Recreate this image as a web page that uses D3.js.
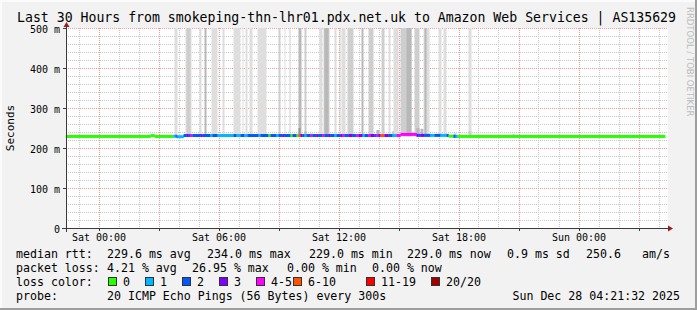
<!DOCTYPE html>
<html>
<head>
<meta charset="utf-8">
<script src="https://cdn.jsdelivr.net/npm/d3@7"></script>
<style>
  body { margin: 0; background: #fff; }
  text { font-family: 'DejaVu Sans Mono', monospace; fill: #000; }
</style>
</head>
<body>
<div id="chart"></div>
<script>
// ---- data ----
const title = 'Last 30 Hours from smokeping-thn-lhr01.pdx.net.uk to Amazon Web Services | AS135629'
const yTicks = [0, 100, 200, 300, 400, 500]
const lossLabels = ['0', '1', '2', '3', '4-5', '6-10', '11-19', '20/20']
const lossColors = ['#26ff00', '#00b8ff', '#0059ff', '#7e00ff', '#ff00ff', '#ff5500', '#ff0000', '#a00000']
const lossBreaks = [1, 2, 3, 4, 6, 11, 20]

// median rtt (ms), change points
const medianRtt = [
  ['Fri 22:22', 228.9], ['Sat 02:36', 231], ['Sat 02:48', 228.9], ['Sat 03:45', 229.5],
  ['Sat 03:54', 228.2], ['Sat 04:15', 231.2], ['Sat 15:06', 234], ['Sat 15:54', 231.5],
  ['Sat 17:30', 229.5], ['Sat 17:45', 228.9], ['Sun 04:20', 228.9]
]

// lost pings out of 20, change points
const lostPings = [
  ['Fri 22:22', 0], ['Sat 03:45', 1], ['Sat 03:51', 2], ['Sat 03:57', 1], ['Sat 04:15', 2],
  ['Sat 04:24', 3], ['Sat 04:30', 2], ['Sat 04:36', 4], ['Sat 04:42', 2], ['Sat 05:06', 3],
  ['Sat 05:12', 2], ['Sat 05:36', 1], ['Sat 05:42', 2], ['Sat 05:57', 1], ['Sat 06:45', 2],
  ['Sat 06:54', 1], ['Sat 07:06', 2], ['Sat 07:18', 1], ['Sat 07:27', 2], ['Sat 08:00', 1],
  ['Sat 08:06', 2], ['Sat 08:30', 0], ['Sat 08:36', 2], ['Sat 08:54', 1], ['Sat 09:00', 2],
  ['Sat 09:12', 3], ['Sat 09:18', 2], ['Sat 09:36', 0], ['Sat 09:42', 2], ['Sat 09:54', 0],
  ['Sat 10:00', 7], ['Sat 10:06', 3], ['Sat 10:12', 2], ['Sat 10:18', 1], ['Sat 10:24', 2],
  ['Sat 10:36', 4], ['Sat 10:42', 2], ['Sat 10:54', 3], ['Sat 11:00', 2], ['Sat 11:12', 4],
  ['Sat 11:18', 2], ['Sat 11:30', 3], ['Sat 11:36', 2], ['Sat 11:48', 1], ['Sat 11:54', 2],
  ['Sat 12:06', 3], ['Sat 12:12', 4], ['Sat 12:18', 2], ['Sat 12:30', 3], ['Sat 12:42', 2],
  ['Sat 12:54', 4], ['Sat 13:00', 3], ['Sat 13:12', 1], ['Sat 13:18', 2], ['Sat 13:30', 4],
  ['Sat 13:36', 3], ['Sat 13:48', 2], ['Sat 13:54', 4], ['Sat 14:00', 3], ['Sat 14:06', 7],
  ['Sat 14:18', 3], ['Sat 14:30', 2], ['Sat 14:42', 1], ['Sat 14:54', 4], ['Sat 15:54', 3],
  ['Sat 16:00', 2], ['Sat 16:06', 3], ['Sat 16:18', 2], ['Sat 16:36', 1], ['Sat 16:48', 2],
  ['Sat 17:06', 1], ['Sat 17:24', 2], ['Sat 17:30', 0], ['Sat 17:45', 2], ['Sat 17:51', 1],
  ['Sat 17:57', 0], ['Sun 04:20', 0]
]

// smoke: [from, to, low ms, high ms, density]
const smoke = [
  ['Sat 03:48', 'Sat 03:57', 229, 520, 1], ['Sat 04:21', 'Sat 04:39', 229, 520, 1],
  ['Sat 04:24', 'Sat 04:36', 229, 520, 2], ['Sat 05:03', 'Sat 05:09', 229, 520, 1],
  ['Sat 05:18', 'Sat 05:24', 229, 520, 3], ['Sat 05:39', 'Sat 05:57', 229, 520, 1],
  ['Sat 06:12', 'Sat 06:18', 229, 520, 1], ['Sat 06:45', 'Sat 07:06', 229, 520, 1],
  ['Sat 07:12', 'Sat 07:15', 229, 520, 1], ['Sat 07:21', 'Sat 07:27', 229, 520, 1],
  ['Sat 07:33', 'Sat 07:42', 229, 520, 1], ['Sat 07:57', 'Sat 08:24', 229, 520, 1],
  ['Sat 09:00', 'Sat 09:06', 229, 520, 2], ['Sat 09:18', 'Sat 09:21', 229, 520, 1],
  ['Sat 09:33', 'Sat 09:36', 229, 520, 2], ['Sat 10:00', 'Sat 10:09', 229, 520, 3],
  ['Sat 10:00', 'Sat 10:06', 229, 250, 4], ['Sat 10:18', 'Sat 10:24', 229, 520, 2],
  ['Sat 10:18', 'Sat 10:24', 229, 242, 3], ['Sat 10:36', 'Sat 10:42', 229, 236, 3],
  ['Sat 11:03', 'Sat 11:12', 229, 520, 1], ['Sat 11:15', 'Sat 11:33', 229, 520, 2],
  ['Sat 11:18', 'Sat 11:30', 229, 520, 3], ['Sat 11:48', 'Sat 11:54', 229, 520, 1],
  ['Sat 12:03', 'Sat 12:06', 229, 520, 2], ['Sat 12:09', 'Sat 12:21', 229, 520, 1],
  ['Sat 12:27', 'Sat 12:45', 229, 520, 2], ['Sat 13:09', 'Sat 13:15', 229, 520, 3],
  ['Sat 13:30', 'Sat 13:45', 229, 520, 2], ['Sat 13:54', 'Sat 14:03', 229, 245, 3],
  ['Sat 14:09', 'Sat 14:18', 229, 520, 2], ['Sat 14:30', 'Sat 14:36', 229, 520, 1],
  ['Sat 14:42', 'Sat 14:48', 229, 242, 3], ['Sat 14:45', 'Sat 15:00', 229, 520, 1],
  ['Sat 15:06', 'Sat 15:39', 229, 520, 2], ['Sat 15:24', 'Sat 15:39', 229, 520, 3],
  ['Sat 15:48', 'Sat 16:03', 229, 520, 2], ['Sat 15:54', 'Sat 16:03', 229, 250, 3],
  ['Sat 16:06', 'Sat 16:15', 229, 248, 3], ['Sat 16:15', 'Sat 16:33', 229, 520, 1],
  ['Sat 16:18', 'Sat 16:24', 229, 520, 3], ['Sat 17:00', 'Sat 17:09', 229, 520, 1],
  ['Sat 17:15', 'Sat 17:24', 229, 520, 1], ['Sat 17:45', 'Sat 17:54', 229, 236, 3],
  ['Sat 18:30', 'Sat 18:39', 229, 520, 1], ['Sat 18:30', 'Sat 18:39', 229, 242, 2],
  ['Sat 20:42', 'Sat 20:48', 229, 235, 2]
]

const rttStats = ['229.6 ms avg', '234.0 ms max', '229.0 ms min', '229.0 ms now', '0.9 ms sd', '250.6', 'am/s']
const lossStats = ['4.21 % avg', '26.95 % max', '0.00 % min', '0.00 % now']
const probeText = '20 ICMP Echo Pings (56 Bytes) every 300s'
const stamp = 'Sun Dec 28 04:21:32 2025'

// ---- layout ----
const W = 697
const H = 310
const plot = { left: 66, right: 668, top: 28, bottom: 228 }

const days = { Fri: 26, Sat: 27, Sun: 28 }
function parseT (s) {
  const [d, hm] = s.split(' ')
  const [h, m] = hm.split(':').map(Number)
  return new Date(2025, 11, days[d], h, m)
}

const svg = d3
  .select('#chart')
  .append('svg')
  .attr('width', W)
  .attr('height', H)

const x = d3
  .scaleTime()
  .domain([new Date(2025, 11, 26, 22, 22, 30), new Date(2025, 11, 28, 4, 28, 30)])
  .range([plot.left, plot.right])

const y = d3
  .scaleLinear()
  .domain([0, 500])
  .range([plot.bottom, plot.top])

const lossColor = d3.scaleThreshold().domain(lossBreaks).range(lossColors)
const smokeShade = d3.scaleOrdinal().domain([1, 2, 3, 4]).range(['#dedede', '#cecece', '#b8b8b8', '#979797'])

// frame
svg.append('rect').attr('width', W).attr('height', H).attr('fill', '#f2f2f2')
svg.append('rect').attr('x', 0).attr('y', 0).attr('width', W).attr('height', 2).attr('fill', '#fbfbfb')
svg.append('rect').attr('x', 0).attr('y', 0).attr('width', 2).attr('height', H).attr('fill', '#fbfbfb')
svg.append('rect').attr('x', 0).attr('y', H - 2).attr('width', W).attr('height', 2).attr('fill', '#9e9e9e')
svg.append('rect').attr('x', W - 2).attr('y', 0).attr('width', 2).attr('height', H).attr('fill', '#9e9e9e')

svg
  .append('rect')
  .attr('x', plot.left)
  .attr('y', plot.top)
  .attr('width', plot.right - plot.left)
  .attr('height', plot.bottom - plot.top)
  .attr('fill', '#fff')

const grid = svg.append('g').attr('stroke-dasharray', '1,1').attr('stroke-width', 1)

// minor grid
grid
  .selectAll('.vminor')
  .data(x.ticks(d3.timeHour.every(1)))
  .enter()
  .append('line')
  .attr('x1', d => Math.round(x(d)) + 0.5)
  .attr('x2', d => Math.round(x(d)) + 0.5)
  .attr('y1', plot.top)
  .attr('y2', plot.bottom)
  .attr('stroke', '#c8c8c8')

grid
  .selectAll('.hminor')
  .data(d3.range(20, 501, 20))
  .enter()
  .append('line')
  .attr('x1', plot.left)
  .attr('x2', plot.right)
  .attr('y1', d => Math.round(y(d)) + 0.5)
  .attr('y2', d => Math.round(y(d)) + 0.5)
  .attr('stroke', '#c8c8c8')

// major grid
grid
  .selectAll('.vmajor')
  .data(x.ticks(d3.timeHour.every(3)))
  .enter()
  .append('line')
  .attr('x1', d => Math.round(x(d)) + 0.5)
  .attr('x2', d => Math.round(x(d)) + 0.5)
  .attr('y1', plot.top)
  .attr('y2', plot.bottom)
  .attr('stroke', '#f29a9a')

grid
  .selectAll('.hmajor')
  .data(yTicks.slice(1))
  .enter()
  .append('line')
  .attr('x1', plot.left)
  .attr('x2', plot.right)
  .attr('y1', d => Math.round(y(d)) + 0.5)
  .attr('y2', d => Math.round(y(d)) + 0.5)
  .attr('stroke', '#f29a9a')

// smoke
svg
  .append('clipPath')
  .attr('id', 'plotclip')
  .append('rect')
  .attr('x', plot.left)
  .attr('y', plot.top)
  .attr('width', plot.right - plot.left)
  .attr('height', plot.bottom - plot.top)

svg
  .append('g')
  .attr('clip-path', 'url(#plotclip)')
  .selectAll('.smoke')
  .data(smoke)
  .enter()
  .append('rect')
  .attr('class', 'smoke')
  .attr('x', d => x(parseT(d[0])))
  .attr('width', d => x(parseT(d[1])) - x(parseT(d[0])))
  .attr('y', d => y(d[3]))
  .attr('height', d => y(d[2]) - y(d[3]))
  .attr('fill', d => smokeShade(d[4]))

// median line, coloured by loss
const rttPts = medianRtt.map(d => [parseT(d[0]), d[1]])
const lossPts = lostPings.map(d => [parseT(d[0]), d[1]])
const cuts = Array.from(new Set(rttPts.concat(lossPts).map(d => +d[0]))).sort((a, b) => a - b)
const lookup = (pts, t) => {
  let v = pts[0][1]
  pts.forEach(p => { if (+p[0] <= t) v = p[1] })
  return v
}
const pieces = cuts.slice(0, -1).map((t, i) => ({
  t0: new Date(t),
  t1: new Date(cuts[i + 1]),
  rtt: lookup(rttPts, t),
  loss: lookup(lossPts, t)
}))

svg
  .append('g')
  .selectAll('.median')
  .data(pieces)
  .enter()
  .append('rect')
  .attr('class', 'median')
  .attr('x', d => x(d.t0))
  .attr('width', d => x(d.t1) - x(d.t0) + 0.3)
  .attr('y', d => y(d.rtt) - 1.5)
  .attr('height', 3)
  .attr('fill', d => lossColor(d.loss))

// axes
const axisColor = '#3a3a3a'
const arrowColor = '#9b1c1c'
svg.append('line')
  .attr('x1', plot.left - 4).attr('x2', plot.right + 1)
  .attr('y1', plot.bottom + 0.5).attr('y2', plot.bottom + 0.5)
  .attr('stroke', axisColor)
svg.append('line')
  .attr('x1', plot.left + 0.5).attr('x2', plot.left + 0.5)
  .attr('y1', plot.bottom + 4).attr('y2', plot.top - 2)
  .attr('stroke', axisColor)
svg.append('path')
  .attr('d', `M${plot.right},${plot.bottom - 2.5}L${plot.right + 5},${plot.bottom + 0.5}L${plot.right},${plot.bottom + 3.5}Z`)
  .attr('fill', arrowColor)
svg.append('path')
  .attr('d', `M${plot.left - 2.5},${plot.top - 1}L${plot.left + 0.5},${plot.top - 6}L${plot.left + 3.5},${plot.top - 1}Z`)
  .attr('fill', arrowColor)

// tick marks
svg.selectAll('.xtick')
  .data(x.ticks(d3.timeHour.every(3)))
  .enter()
  .append('line')
  .attr('x1', d => Math.round(x(d)) + 0.5).attr('x2', d => Math.round(x(d)) + 0.5)
  .attr('y1', plot.bottom).attr('y2', plot.bottom + 3)
  .attr('stroke', axisColor)
svg.selectAll('.ytick')
  .data(yTicks)
  .enter()
  .append('line')
  .attr('x1', plot.left - 3).attr('x2', plot.left)
  .attr('y1', d => Math.round(y(d)) + 0.5).attr('y2', d => Math.round(y(d)) + 0.5)
  .attr('stroke', axisColor)

// labels
const fmt = d3.timeFormat('%a %H:%M')
svg.selectAll('.xlabel')
  .data(x.ticks(d3.timeHour.every(6)))
  .enter()
  .append('text')
  .attr('x', d => x(d) + 0.5)
  .attr('y', 241)
  .attr('text-anchor', 'middle')
  .attr('font-size', 10)
  .text(fmt)

svg.selectAll('.ylabel')
  .data(yTicks)
  .enter()
  .append('text')
  .attr('x', 60)
  .attr('y', d => y(d) + 4.5)
  .attr('text-anchor', 'end')
  .attr('font-size', 10)
  .text(d => d === 0 ? '0' : d + ' m')

svg.append('text')
  .attr('transform', 'translate(14,128) rotate(-90)')
  .attr('text-anchor', 'middle')
  .attr('font-size', 11)
  .text('Seconds')

svg.append('text')
  .attr('x', 17)
  .attr('y', 22)
  .attr('font-size', 13.2)
  .text(title)

svg.append('text')
  .attr('transform', 'translate(687,7) rotate(90)')
  .attr('font-size', 8.5)
  .style('font-family', "'DejaVu Sans', sans-serif")
  .style('fill', '#bcbcbc')
  .text('RRDTOOL / TOBI OETIKER')

// legend
const lg = svg.append('g').attr('font-size', 11.6).attr('xml:space', 'preserve')
const rowY = [258, 272, 286, 300]
lg.append('text').attr('x', 16).attr('y', rowY[0]).text('median rtt:')
lg.append('text').attr('x', 16).attr('y', rowY[1]).text('packet loss:')
lg.append('text').attr('x', 16).attr('y', rowY[2]).text('loss color:')
lg.append('text').attr('x', 16).attr('y', rowY[3]).text('probe:')

const rttX = [107, 207, 309, 407, 507, 586, 642]
lg.selectAll('.rtt').data(rttStats).enter().append('text')
  .attr('x', (d, i) => rttX[i]).attr('y', rowY[0]).text(d => d)

const lossX = [107, 192, 287, 372]
lg.selectAll('.lossst').data(lossStats).enter().append('text')
  .attr('x', (d, i) => lossX[i]).attr('y', rowY[1]).text(d => d)

const swX = [108, 145, 182, 219, 256, 293, 366, 431]
const sw = lg.selectAll('.sw').data(lossLabels).enter().append('g')
sw.append('rect')
  .attr('x', (d, i) => swX[i] + 0.5).attr('y', 277.5)
  .attr('width', 8).attr('height', 8)
  .attr('fill', (d, i) => lossColors[i])
  .attr('stroke', '#333')
sw.append('text')
  .attr('x', (d, i) => swX[i] + 15).attr('y', rowY[2]).text(d => d)

lg.append('text').attr('x', 107).attr('y', rowY[3]).text(probeText)
lg.append('text').attr('x', 680).attr('y', rowY[3]).attr('text-anchor', 'end').text(stamp)
</script>
</body>
</html>
